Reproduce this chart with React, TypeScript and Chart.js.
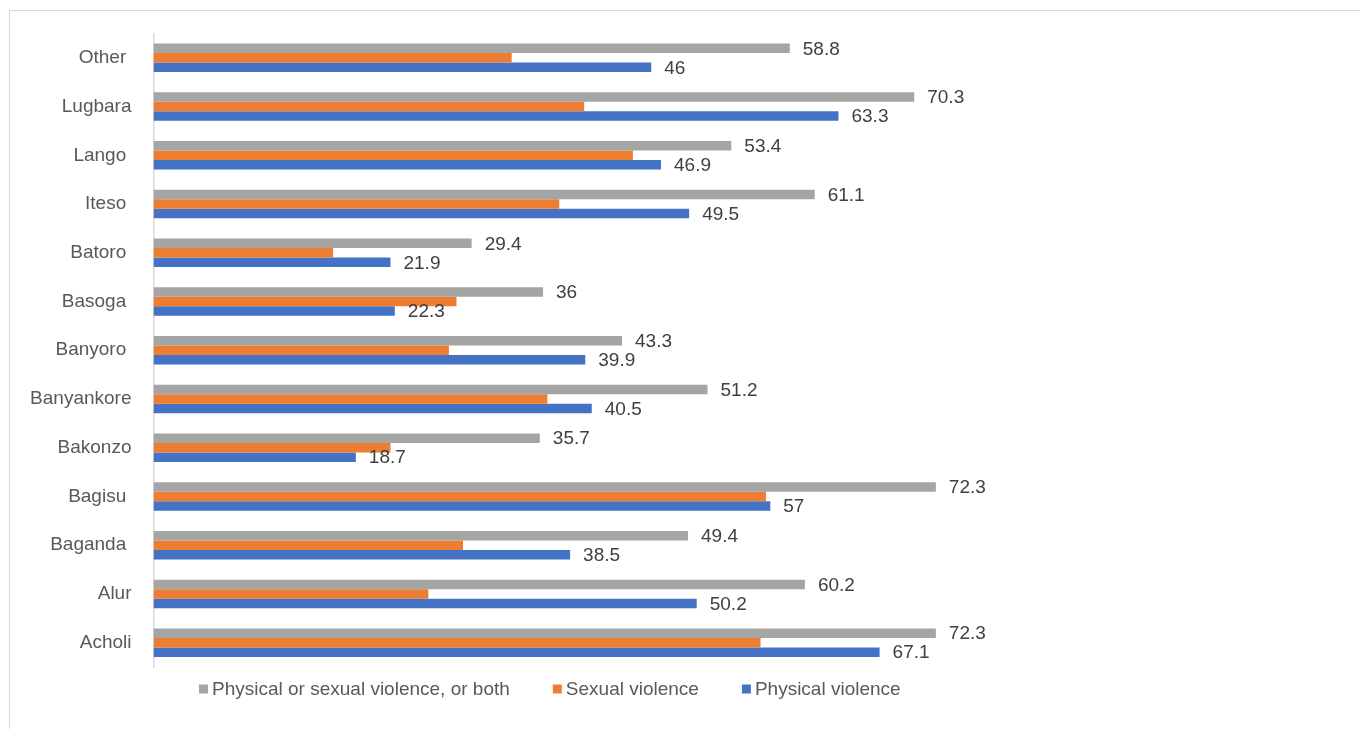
import React, { useEffect, useRef } from "react";
import { Chart, registerables } from "chart.js";

Chart.register(...registerables);

const categories = [
  "Other ",
  "Lugbara",
  "Lango ",
  "Iteso ",
  "Batoro ",
  "Basoga ",
  "Banyoro ",
  "Banyankore",
  "Bakonzo",
  "Bagisu ",
  "Baganda ",
  "Alur",
  "Acholi",
];

const physicalOrSexual = [58.8, 70.3, 53.4, 61.1, 29.4, 36, 43.3, 51.2, 35.7, 72.3, 49.4, 60.2, 72.3];
const sexualViolence = [33.1, 39.8, 44.3, 37.5, 16.6, 28.0, 27.3, 36.4, 21.9, 56.6, 28.6, 25.4, 56.1];
const physicalViolence = [46, 63.3, 46.9, 49.5, 21.9, 22.3, 39.9, 40.5, 18.7, 57, 38.5, 50.2, 67.1];

const seriesNames = ["Physical or sexual violence, or both", "Sexual violence", "Physical violence"];
const seriesColors = ["#A5A5A5", "#ED7D31", "#4472C4"];
const labelledSeries = [0, 2];

const FONT = '"Liberation Sans", Arial, sans-serif';

const dataLabelPlugin = {
  id: "dataLabels",
  afterDatasetsDraw(chart: any) {
    const ctx = chart.ctx;
    ctx.save();
    ctx.font = `19px ${FONT}`;
    ctx.fillStyle = "#404040";
    ctx.textAlign = "left";
    ctx.textBaseline = "middle";
    labelledSeries.forEach((di) => {
      const meta = chart.getDatasetMeta(di);
      const values = chart.data.datasets[di].data;
      meta.data.forEach((el: any, i: number) => {
        ctx.fillText(String(values[i]), el.x + 13, el.y + 1);
      });
    });
    ctx.restore();
  },
};

const legendPlugin = {
  id: "customLegend",
  afterDraw(chart: any) {
    const ctx = chart.ctx;
    ctx.save();
    ctx.font = `19px ${FONT}`;
    ctx.textBaseline = "middle";
    ctx.textAlign = "left";
    let x = 199;
    const y = 689;
    chart.data.datasets.forEach((ds: any) => {
      ctx.fillStyle = ds.backgroundColor;
      ctx.fillRect(x, y - 4.5, 9, 9);
      ctx.fillStyle = "#595959";
      ctx.fillText(ds.label, x + 13, y + 1);
      x += 13 + ctx.measureText(ds.label).width + 43;
    });
    ctx.restore();
  },
};

export default function App() {
  const ref = useRef<HTMLCanvasElement>(null);

  useEffect(() => {
    if (!ref.current) return;
    const seriesData = [physicalOrSexual, sexualViolence, physicalViolence];
    const chart = new Chart(ref.current, {
      type: "bar",
      data: {
        labels: categories,
        datasets: seriesData.map((d, i) => ({
          label: seriesNames[i],
          data: d,
          backgroundColor: seriesColors[i],
          borderWidth: 0,
          categoryPercentage: 0.585,
          barPercentage: 1,
        })),
      },
      options: {
        indexAxis: "y",
        animation: false,
        responsive: false,
        maintainAspectRatio: false,
        layout: { padding: { left: 0, top: 33.5, right: 124.4, bottom: 62 } },
        plugins: {
          legend: { display: false },
          tooltip: { enabled: false },
        },
        scales: {
          x: { display: false, min: 0, max: 100 },
          y: {
            grid: { display: false, drawTicks: false },
            border: { display: true, color: "#d9d9d9", width: 1.5 },
            ticks: {
              color: "#595959",
              font: { size: 19, family: FONT },
              padding: 22,
            },
            afterFit(scale: any) {
              scale.width = 153.5;
            },
          },
        },
      },
      plugins: [dataLabelPlugin, legendPlugin],
    });
    return () => chart.destroy();
  }, []);

  return (
    <div style={{ position: "fixed", left: 0, top: 0, width: 1360, height: 729, overflow: "hidden", background: "#fff" }}>
      <div
        style={{
          position: "absolute",
          left: 9,
          top: 10,
          width: 1500,
          height: 900,
          borderTop: "1.5px solid #d9d9d9",
          borderLeft: "1.5px solid #d9d9d9",
        }}
      />
      <canvas ref={ref} width={1360} height={729} style={{ position: "absolute", left: 0, top: 0 }} />
    </div>
  );
}
